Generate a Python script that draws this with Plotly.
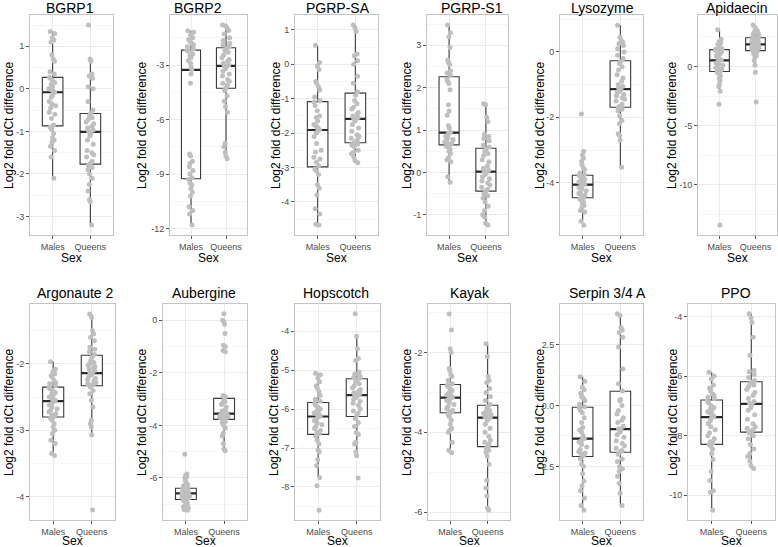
import plotly.graph_objects as go

W, H = 778, 547

genes = ["BGRP1", "BGRP2", "PGRP-SA", "PGRP-S1", "Lysozyme", "Apidaecin",
         "Argonaute 2", "Aubergine", "Hopscotch", "Kayak", "Serpin 3/4 A", "PPO"]
sexes = ["Males", "Queens"]

# ---------------- raw points (log2 fold dCt difference) ----------------
bgrp1_males = [1.35, 1.3, 1.2, 1.15, 1.1, 0.8, 0.7, 0.65, 0.4, 0.35,
               0.27, 0.25, 0.2, 0.15, 0.1, 0.05, 0.0, -0.02, -0.05, -0.08,
               -0.15, -0.2, -0.3, -0.35, -0.4, -0.45, -0.55, -0.6, -0.7, -0.85,
               -0.9, -0.95, -1.05, -1.15, -1.2, -1.25, -1.35, -1.45, -1.6, -2.1]
bgrp1_queens = [1.5, 0.7, 0.65, 0.35, 0.3, 0.25, 0.05, 0.0, -0.3, -0.5,
                -0.58, -0.62, -0.68, -0.72, -0.78, -0.82, -0.88, -0.92, -0.97, -1.0,
                -1.05, -1.1, -1.2, -1.3, -1.45, -1.5, -1.55, -1.6, -1.7, -1.75,
                -1.8, -1.85, -1.9, -2.0, -2.1, -2.25, -2.4, -2.6, -2.65, -3.2]
bgrp2_males = [-1.12, -1.2, -1.35, -1.5, -1.6, -1.7, -1.8, -1.9, -2.0, -2.1,
               -2.2, -2.25, -2.3, -2.4, -2.5, -2.6, -2.75, -2.9, -3.1, -3.25,
               -3.5, -4.0, -7.9, -8.0, -8.3, -8.4, -8.6, -8.8, -9.0, -9.2,
               -9.3, -9.5, -9.6, -9.8, -10.0, -10.2, -10.8, -11.0, -11.2, -11.8]
bgrp2_queens = [-0.8, -0.85, -0.95, -1.1, -1.3, -1.5, -1.65, -1.8, -1.9, -2.0,
                -2.1, -2.2, -2.3, -2.45, -2.6, -2.7, -2.8, -2.9, -3.0, -3.05,
                -3.1, -3.2, -3.35, -3.5, -3.6, -3.8, -3.9, -4.0, -4.1, -4.25,
                -4.4, -4.7, -5.0, -5.3, -5.6, -7.3, -7.5, -7.8, -8.0, -8.16]
pgrpsa_males = [0.55, 0.05, -0.05, -0.15, -0.5, -0.55, -0.65, -0.75, -0.95, -1.05,
                -1.1, -1.2, -1.35, -1.5, -1.55, -1.65, -1.75, -1.8, -1.85, -1.9,
                -1.95, -2.0, -2.1, -2.3, -2.5, -2.55, -2.7, -2.75, -2.85, -2.95,
                -3.05, -3.1, -3.2, -3.5, -3.6, -3.8, -4.2, -4.35, -4.65, -4.67]
pgrpsa_queens = [1.14, 1.05, 0.95, 0.3, 0.25, 0.1, 0.0, -0.35, -0.55, -0.8,
                 -0.9, -1.05, -1.15, -1.25, -1.3, -1.4, -1.45, -1.5, -1.55, -1.58,
                 -1.6, -1.65, -1.75, -1.85, -1.95, -2.05, -2.1, -2.15, -2.2, -2.25,
                 -2.3, -2.32, -2.35, -2.4, -2.5, -2.55, -2.6, -2.7, -2.8, -2.86]
pgrps1_males = [3.48, 3.3, 3.2, 2.95, 2.65, 2.6, 2.55, 2.4, 2.35, 2.3,
                2.2, 2.15, 2.1, 1.95, 1.6, 1.45, 1.35, 1.1, 1.05, 0.95,
                0.93, 0.9, 0.85, 0.82, 0.78, 0.75, 0.72, 0.7, 0.68, 0.66,
                0.62, 0.6, 0.55, 0.5, 0.45, 0.35, 0.3, 0.25, -0.1, -0.23]
pgrps1_queens = [1.62, 1.6, 1.3, 1.2, 0.9, 0.85, 0.8, 0.75, 0.65, 0.6,
                 0.55, 0.5, 0.45, 0.4, 0.3, 0.25, 0.15, 0.1, 0.05, 0.02,
                 0.0, -0.05, -0.1, -0.15, -0.2, -0.25, -0.3, -0.35, -0.4, -0.43,
                 -0.5, -0.55, -0.6, -0.7, -0.8, -0.9, -1.0, -1.05, -1.2, -1.24]
lysozyme_males = [-1.9, -3.04, -3.15, -3.25, -3.35, -3.45, -3.55, -3.6, -3.7, -3.75,
                  -3.78, -3.8, -3.85, -3.9, -3.92, -3.95, -3.98, -4.0, -4.02, -4.05,
                  -4.08, -4.12, -4.15, -4.2, -4.25, -4.3, -4.33, -4.38, -4.42, -4.45,
                  -4.5, -4.55, -4.6, -4.65, -4.7, -4.75, -4.85, -4.9, -5.18, -5.3]
lysozyme_queens = [0.82, 0.45, 0.35, 0.3, 0.25, 0.2, 0.1, 0.0, -0.1, -0.2,
                   -0.3, -0.35, -0.45, -0.55, -0.7, -0.8, -0.9, -1.0, -1.05, -1.1,
                   -1.15, -1.2, -1.25, -1.3, -1.35, -1.4, -1.45, -1.5, -1.6, -1.65,
                   -1.7, -1.75, -1.8, -1.95, -2.1, -2.2, -2.5, -2.55, -2.7, -3.53]
apidaecin_males = [3.1, 2.3, 2.1, 2.0, 1.9, 1.7, 1.6, 1.5, 1.45, 1.43,
                   1.4, 1.35, 1.3, 1.2, 1.1, 1.0, 0.9, 0.7, 0.6, 0.55,
                   0.5, 0.4, 0.3, 0.2, 0.1, 0.0, -0.1, -0.2, -0.3, -0.4,
                   -0.5, -0.6, -0.8, -1.0, -1.2, -1.5, -1.7, -2.1, -3.2, -13.4]
apidaecin_queens = [3.5, 3.3, 3.1, 3.0, 2.9, 2.8, 2.7, 2.6, 2.5, 2.45,
                    2.4, 2.35, 2.3, 2.2, 2.15, 2.1, 2.0, 1.95, 1.9, 1.87,
                    1.85, 1.8, 1.75, 1.7, 1.65, 1.6, 1.55, 1.5, 1.42, 1.36,
                    1.3, 1.2, 1.1, 1.0, 0.9, 0.8, 0.5, 0.1, -0.5, -3.0]
argonaute2_males = [-1.97, -2.08, -2.12, -2.15, -2.18, -2.2, -2.25, -2.28, -2.3, -2.33,
                    -2.36, -2.38, -2.4, -2.43, -2.45, -2.47, -2.5, -2.52, -2.54, -2.55,
                    -2.57, -2.6, -2.62, -2.65, -2.68, -2.7, -2.72, -2.75, -2.77, -2.79,
                    -2.82, -2.85, -2.9, -2.95, -3.0, -3.05, -3.15, -3.2, -3.35, -3.38]
argonaute2_queens = [-1.25, -1.3, -1.5, -1.55, -1.6, -1.65, -1.75, -1.78, -1.82, -1.86,
                     -1.9, -1.95, -1.98, -2.0, -2.02, -2.04, -2.06, -2.08, -2.1, -2.13,
                     -2.15, -2.17, -2.2, -2.22, -2.24, -2.26, -2.28, -2.3, -2.31, -2.32,
                     -2.35, -2.4, -2.45, -2.55, -2.65, -2.85, -2.9, -2.95, -3.07, -4.2]
aubergine_males = [-5.1, -5.85, -5.9, -5.95, -6.0, -6.1, -6.2, -6.25, -6.3, -6.35,
                   -6.4, -6.42, -6.45, -6.48, -6.5, -6.52, -6.54, -6.56, -6.57, -6.58,
                   -6.6, -6.62, -6.64, -6.66, -6.68, -6.7, -6.73, -6.76, -6.78, -6.8,
                   -6.85, -6.88, -6.92, -6.95, -7.0, -7.05, -7.1, -7.15, -7.2, -7.23]
aubergine_queens = [0.25, 0.0, -0.05, -0.15, -0.5, -0.95, -1.0, -1.15, -1.2, -2.86, -2.9,
                    -3.0, -3.05, -3.1, -3.15, -3.2, -3.3, -3.4, -3.45, -3.5, -3.54,
                    -3.56, -3.58, -3.6, -3.62, -3.64, -3.66, -3.68, -3.7, -3.73, -3.76,
                    -3.8, -3.85, -3.9, -4.0, -4.1, -4.3, -4.4, -4.7, -4.9, -4.96]
hopscotch_males = [-5.08, -5.12, -5.2, -5.3, -5.4, -5.45, -5.55, -5.65, -5.75, -5.8,
                   -5.85, -5.9, -5.95, -6.0, -6.05, -6.08, -6.1, -6.12, -6.15, -6.18,
                   -6.2, -6.25, -6.3, -6.35, -6.4, -6.45, -6.5, -6.55, -6.6, -6.63,
                   -6.7, -6.8, -6.9, -7.05, -7.1, -7.3, -7.45, -7.76, -7.97, -8.6]
hopscotch_queens = [-3.55, -4.13, -4.45, -4.7, -4.75, -5.05, -5.1, -5.15, -5.18, -5.2,
                    -5.25, -5.3, -5.35, -5.4, -5.45, -5.5, -5.55, -5.58, -5.6, -5.63,
                    -5.66, -5.7, -5.75, -5.8, -5.85, -5.9, -6.0, -6.05, -6.1, -6.15,
                    -6.25, -6.35, -6.45, -6.6, -6.65, -6.85, -6.9, -7.1, -7.2, -7.77]
kayak_males = [-1.03, -1.43, -1.9, -2.0, -2.4, -2.45, -2.55, -2.6, -2.7, -2.78,
               -2.82, -2.85, -2.9, -2.95, -3.0, -3.03, -3.06, -3.08, -3.1, -3.12,
               -3.15, -3.18, -3.2, -3.25, -3.3, -3.35, -3.4, -3.45, -3.48, -3.5,
               -3.55, -3.6, -3.7, -3.8, -3.9, -3.95, -4.0, -4.25, -4.45, -4.51]
kayak_queens = [-1.78, -2.1, -2.6, -2.7, -2.75, -2.9, -3.0, -3.1, -3.2, -3.3,
                -3.35, -3.4, -3.45, -3.5, -3.52, -3.55, -3.58, -3.6, -3.62, -3.63,
                -3.65, -3.7, -3.8, -3.9, -4.0, -4.1, -4.2, -4.25, -4.3, -4.35,
                -4.4, -4.45, -4.5, -4.6, -4.8, -5.2, -5.4, -5.6, -5.9, -5.95]
serpin_males = [1.18, 1.0, 0.75, 0.65, 0.5, 0.35, 0.3, 0.2, 0.05, -0.05,
                -0.1, -0.2, -0.3, -0.5, -0.7, -0.9, -1.0, -1.1, -1.25, -1.35,
                -1.38, -1.45, -1.5, -1.6, -1.7, -1.8, -1.9, -1.95, -2.0, -2.05,
                -2.2, -2.4, -2.5, -2.8, -3.1, -3.3, -3.5, -3.8, -4.1, -4.3]
serpin_queens = [3.77, 3.7, 3.2, 3.1, 3.0, 2.8, 2.4, 1.5, 0.9, 0.6,
                 0.25, 0.2, 0.0, -0.2, -0.35, -0.5, -0.6, -0.7, -0.85, -0.95,
                 -1.0, -1.1, -1.2, -1.3, -1.45, -1.55, -1.65, -1.75, -1.85, -1.9,
                 -2.0, -2.2, -2.3, -2.5, -2.6, -2.7, -2.9, -3.2, -3.6, -4.1]
ppo_males = [-5.87, -6.0, -6.1, -6.3, -6.4, -6.5, -6.6, -6.65, -6.7, -6.75,
             -6.82, -6.9, -7.0, -7.05, -7.1, -7.15, -7.2, -7.25, -7.3, -7.35,
             -7.4, -7.5, -7.6, -7.7, -7.8, -7.9, -8.0, -8.1, -8.2, -8.25,
             -8.3, -8.35, -8.45, -8.6, -8.8, -9.2, -9.5, -9.85, -9.9, -10.5]
ppo_queens = [-3.91, -4.05, -4.2, -4.7, -5.3, -5.8, -5.85, -5.95, -6.05, -6.15,
              -6.2, -6.25, -6.3, -6.35, -6.45, -6.55, -6.65, -6.75, -6.85, -6.9,
              -6.95, -7.05, -7.15, -7.3, -7.45, -7.6, -7.7, -7.75, -7.8, -7.85,
              -7.9, -8.0, -8.1, -8.3, -8.45, -8.6, -8.7, -8.85, -9.0, -9.1]

males_data = [bgrp1_males, bgrp2_males, pgrpsa_males, pgrps1_males, lysozyme_males,
              apidaecin_males, argonaute2_males, aubergine_males, hopscotch_males,
              kayak_males, serpin_males, ppo_males]
queens_data = [bgrp1_queens, bgrp2_queens, pgrpsa_queens, pgrps1_queens, lysozyme_queens,
               apidaecin_queens, argonaute2_queens, aubergine_queens, hopscotch_queens,
               kayak_queens, serpin_queens, ppo_queens]

# ---------------- box statistics (as drawn) ----------------
q1_males = [-0.87, -9.26, -2.98, 0.65, -4.46, -0.43, -2.80, -6.82, -6.65, -3.51, -2.09, -8.29]
med_males = [-0.08, -3.27, -1.91, 0.94, -4.06, 0.52, -2.56, -6.59, -6.19, -3.13, -1.36, -7.38]
q3_males = [0.27, -2.18, -1.085, 2.26, -3.77, 1.42, -2.35, -6.39, -5.83, -2.80, -0.07, -6.80]
lo_males = [-2.1, -11.8, -4.67, -0.23, -5.18, -2.1, -3.38, -7.23, -7.76, -4.51, -4.3, -10.5]
hi_males = [1.35, -1.12, 0.55, 3.48, -3.04, 3.1, -1.97, -5.85, -5.08, -2.0, 1.18, -5.87]

q1_queens = [-1.77, -4.28, -2.28, -0.44, -1.69, 1.34, -2.33, -3.77, -6.19, -4.36, -1.92, -7.88]
med_queens = [-1.01, -3.05, -1.59, 0.02, -1.14, 1.86, -2.14, -3.55, -5.64, -3.63, -0.97, -6.93]
q3_queens = [-0.58, -2.05, -0.84, 0.57, -0.27, 2.43, -1.87, -2.97, -5.22, -3.32, 0.59, -6.19]
lo_queens = [-3.2, -8.16, -2.86, -1.24, -3.53, 0.1, -3.07, -4.96, -7.2, -5.9, -4.1, -9.1]
hi_queens = [0.7, -0.81, 1.14, 1.62, 0.82, 3.5, -1.25, -2.86, -4.13, -1.78, 3.77, -3.91]

# ---------------- axes ----------------
y_ranges = [[-3.435, 1.735], [-12.35, -0.25], [-4.96, 1.43], [-1.476, 3.716],
            [-5.6, 1.13], [-14.25, 4.35], [-4.35, -1.10], [-7.6, 0.62],
            [-8.85, -3.3], [-6.2, -0.78], [-4.7, 4.17], [-10.83, -3.58]]
tick_vals = [[-3, -2, -1, 0, 1], [-12, -9, -6, -3], [-5, -4, -3, -2, -1, 0, 1],
             [-1, 0, 1, 2, 3], [-4, -2, 0], [-10, -5, 0], [-4, -3, -2],
             [-6, -4, -2, 0], [-8, -7, -6, -5, -4], [-6, -4, -2],
             [-2.5, 0.0, 2.5], [-10, -8, -6, -4]]
tick_text = [["-3", "-2", "-1", "0", "1"], ["-12", "-9", "-6", "-3"],
             ["-5", "-4", "-3", "-2", "-1", "0", "1"], ["-1", "0", "1", "2", "3"],
             ["-4", "-2", "0"], ["-10", "-5", "0"], ["-4", "-3", "-2"],
             ["-6", "-4", "-2", "0"], ["-8", "-7", "-6", "-5", "-4"],
             ["-6", "-4", "-2"], ["-2.5", "0.0", "2.5"], ["-10", "-8", "-6", "-4"]]
minor_step = [0.5, 1.5, 0.5, 0.5, 1, 2.5, 0.5, 1, 0.5, 1, 1.25, 1]

# panel pixel geometry
col_px = [[(30, 113), (170, 247), (295, 378), (427, 508), (560, 643), (698, 777)],
          [(30, 115), (163, 247), (295, 380), (428, 510), (560, 643), (688, 775)]]
row_px = [(15, 235), (304, 520)]
title_x = [[70, 198, 338, 472, 602, 737], [75, 204, 336, 470, 607, 736]]
title_y = [8, 293]
ylab_x = [[9, 142, 276, 407, 540, 672], [9, 142, 274, 407, 540, 673]]
sex_y = [258, 541]

FONT = "Liberation Sans, Arial, Helvetica, sans-serif"
BORDER = "#c4c4c4"
GRID = "#ebebeb"
MINOR = "#f6f6f6"
BOXLINE = "#3a3a3a"
POINT = "#bfbfbf"
TICKTXT = "#4d4d4d"

fig = go.Figure()
layout = dict(width=W, height=H, margin=dict(l=0, r=0, t=0, b=0),
              paper_bgcolor="white", plot_bgcolor="white", showlegend=False,
              hovermode=False, boxmode="overlay", boxgap=0.22,
              font=dict(family=FONT, color="black"))
annotations = []

for i in range(12):
    r, c = divmod(i, 6)
    x0, x1 = col_px[r][c]
    y0, y1 = row_px[r]
    n = "" if i == 0 else str(i + 1)
    xref, yref = "x" + n, "y" + n

    layout["xaxis" + n] = dict(
        domain=[x0 / W, x1 / W], anchor=yref, type="category",
        categoryorder="array", categoryarray=sexes, range=[-0.6, 1.6],
        showline=True, mirror=True, linecolor=BORDER, linewidth=1,
        showgrid=True, gridcolor=GRID, gridwidth=1, zeroline=False,
        ticks="outside", ticklen=3, tickcolor="#555555", tickwidth=1,
        tickfont=dict(size=9, color=TICKTXT, family=FONT), fixedrange=True)
    layout["yaxis" + n] = dict(
        domain=[1 - y1 / H, 1 - y0 / H], anchor=xref, range=y_ranges[i],
        tickmode="array", tickvals=tick_vals[i], ticktext=tick_text[i],
        showline=True, mirror=True, linecolor=BORDER, linewidth=1,
        showgrid=True, gridcolor=GRID, gridwidth=1, zeroline=False,
        ticks="outside", ticklen=3, tickcolor="#555555", tickwidth=1,
        tickfont=dict(size=9, color=TICKTXT, family=FONT), fixedrange=True,
        minor=dict(tickmode="linear", tick0=0, dtick=minor_step[i],
                   showgrid=True, gridcolor=MINOR, ticks=""))

    # box with stats
    fig.add_trace(go.Box(
        x=sexes, q1=[q1_males[i], q1_queens[i]], median=[med_males[i], med_queens[i]],
        q3=[q3_males[i], q3_queens[i]], lowerfence=[lo_males[i], lo_queens[i]],
        upperfence=[hi_males[i], hi_queens[i]], boxpoints=False,
        fillcolor="white", line=dict(color=BOXLINE, width=1.1), whiskerwidth=0,
        xaxis=xref, yaxis=yref, hoverinfo="skip"))
    # thicker median line
    meds = [med_males[i], med_queens[i]]
    fig.add_trace(go.Box(
        x=sexes, q1=meds, median=meds, q3=meds, lowerfence=meds, upperfence=meds,
        boxpoints=False, fillcolor="rgba(0,0,0,0)",
        line=dict(color="#2a2a2a", width=2.2), whiskerwidth=0,
        xaxis=xref, yaxis=yref, hoverinfo="skip"))
    # jittered points
    m, q = males_data[i], queens_data[i]
    fig.add_trace(go.Box(
        x=["Males"] * len(m) + ["Queens"] * len(q), y=m + q,
        boxpoints="all", jitter=0.45, pointpos=0,
        marker=dict(color=POINT, size=5, line=dict(width=0)),
        fillcolor="rgba(0,0,0,0)", line=dict(color="rgba(0,0,0,0)", width=0),
        whiskerwidth=0, xaxis=xref, yaxis=yref, hoverinfo="skip"))

    # panel title
    annotations.append(dict(text=genes[i], x=title_x[r][c] / W, y=1 - title_y[r] / H,
                            xref="paper", yref="paper", showarrow=False,
                            xanchor="center", yanchor="middle",
                            font=dict(size=14, color="black", family=FONT)))
    # y-axis label
    annotations.append(dict(text="Log2 fold dCt difference", x=ylab_x[r][c] / W,
                            y=1 - ((y0 + y1) / 2) / H, xref="paper", yref="paper",
                            showarrow=False, textangle=-90, xanchor="center",
                            yanchor="middle",
                            font=dict(size=12, color="black", family=FONT)))
    # x-axis label
    annotations.append(dict(text="Sex", x=((x0 + x1) / 2) / W, y=1 - sex_y[r] / H,
                            xref="paper", yref="paper", showarrow=False,
                            xanchor="center", yanchor="middle",
                            font=dict(size=12, color="black", family=FONT)))

layout["annotations"] = annotations
fig.update_layout(**layout)
fig.write_html("out.html",
               config={"displayModeBar": False, "staticPlot": True},
               post_script="document.body.style.margin='0px';"
                           "document.body.style.overflow='hidden';")
